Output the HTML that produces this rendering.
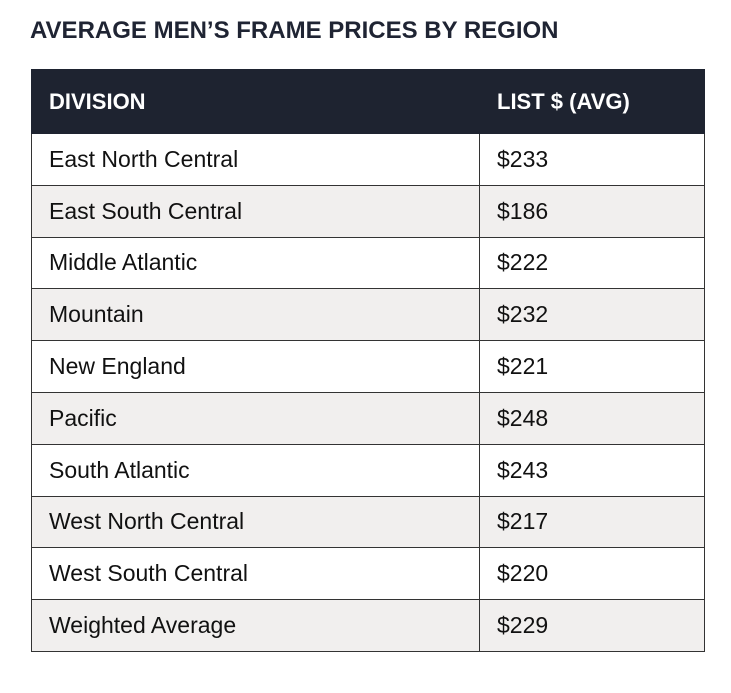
<!DOCTYPE html>
<html><head><meta charset="utf-8"><style>
body{margin:0;width:731px;height:693px;background:#fff;font-family:"Liberation Sans",sans-serif;position:relative;overflow:hidden}
#title{position:absolute;left:30px;top:17px;font-size:24px;font-weight:bold;color:#1f2433;letter-spacing:0px;white-space:nowrap}
#tbl{position:absolute;left:31px;top:69px;width:674px;border-collapse:collapse;table-layout:fixed}
#tbl td,#tbl th{height:51.8px;padding:0 0 0 17px;border:1.5px solid #333;font-size:23px;color:#111;text-align:left;font-weight:normal;box-sizing:border-box}
#tbl th{height:64px;background:#1e2330;color:#fff;font-weight:bold;font-size:22px;border-color:#1e2330}
#tbl th+th{border-left:1.5px solid #bbb}
#tbl tr:nth-child(even) td{background:#f1efee}
#tbl tr:nth-child(odd) td{background:#fff}
</style></head><body>
<div id="title">AVERAGE MEN’S FRAME PRICES BY REGION</div>
<table id="tbl">
<colgroup><col style="width:448px"><col></colgroup>
<tr><th>DIVISION</th><th>LIST $ (AVG)</th></tr>
</table>
<script>
const divisions=["East North Central","East South Central","Middle Atlantic","Mountain","New England","Pacific","South Atlantic","West North Central","West South Central","Weighted Average"];
const prices=[233,186,222,232,221,248,243,217,220,229];
const t=document.getElementById('tbl');
divisions.forEach((d,i)=>{
  const tr=document.createElement('tr');
  
  
  const a=document.createElement('td');
  
  
  a.textContent=d;
  const b=document.createElement('td');
  
  
  b.textContent='$'+prices[i];
  tr.appendChild(a);tr.appendChild(b);t.appendChild(tr);
});
</script>
</body></html>
